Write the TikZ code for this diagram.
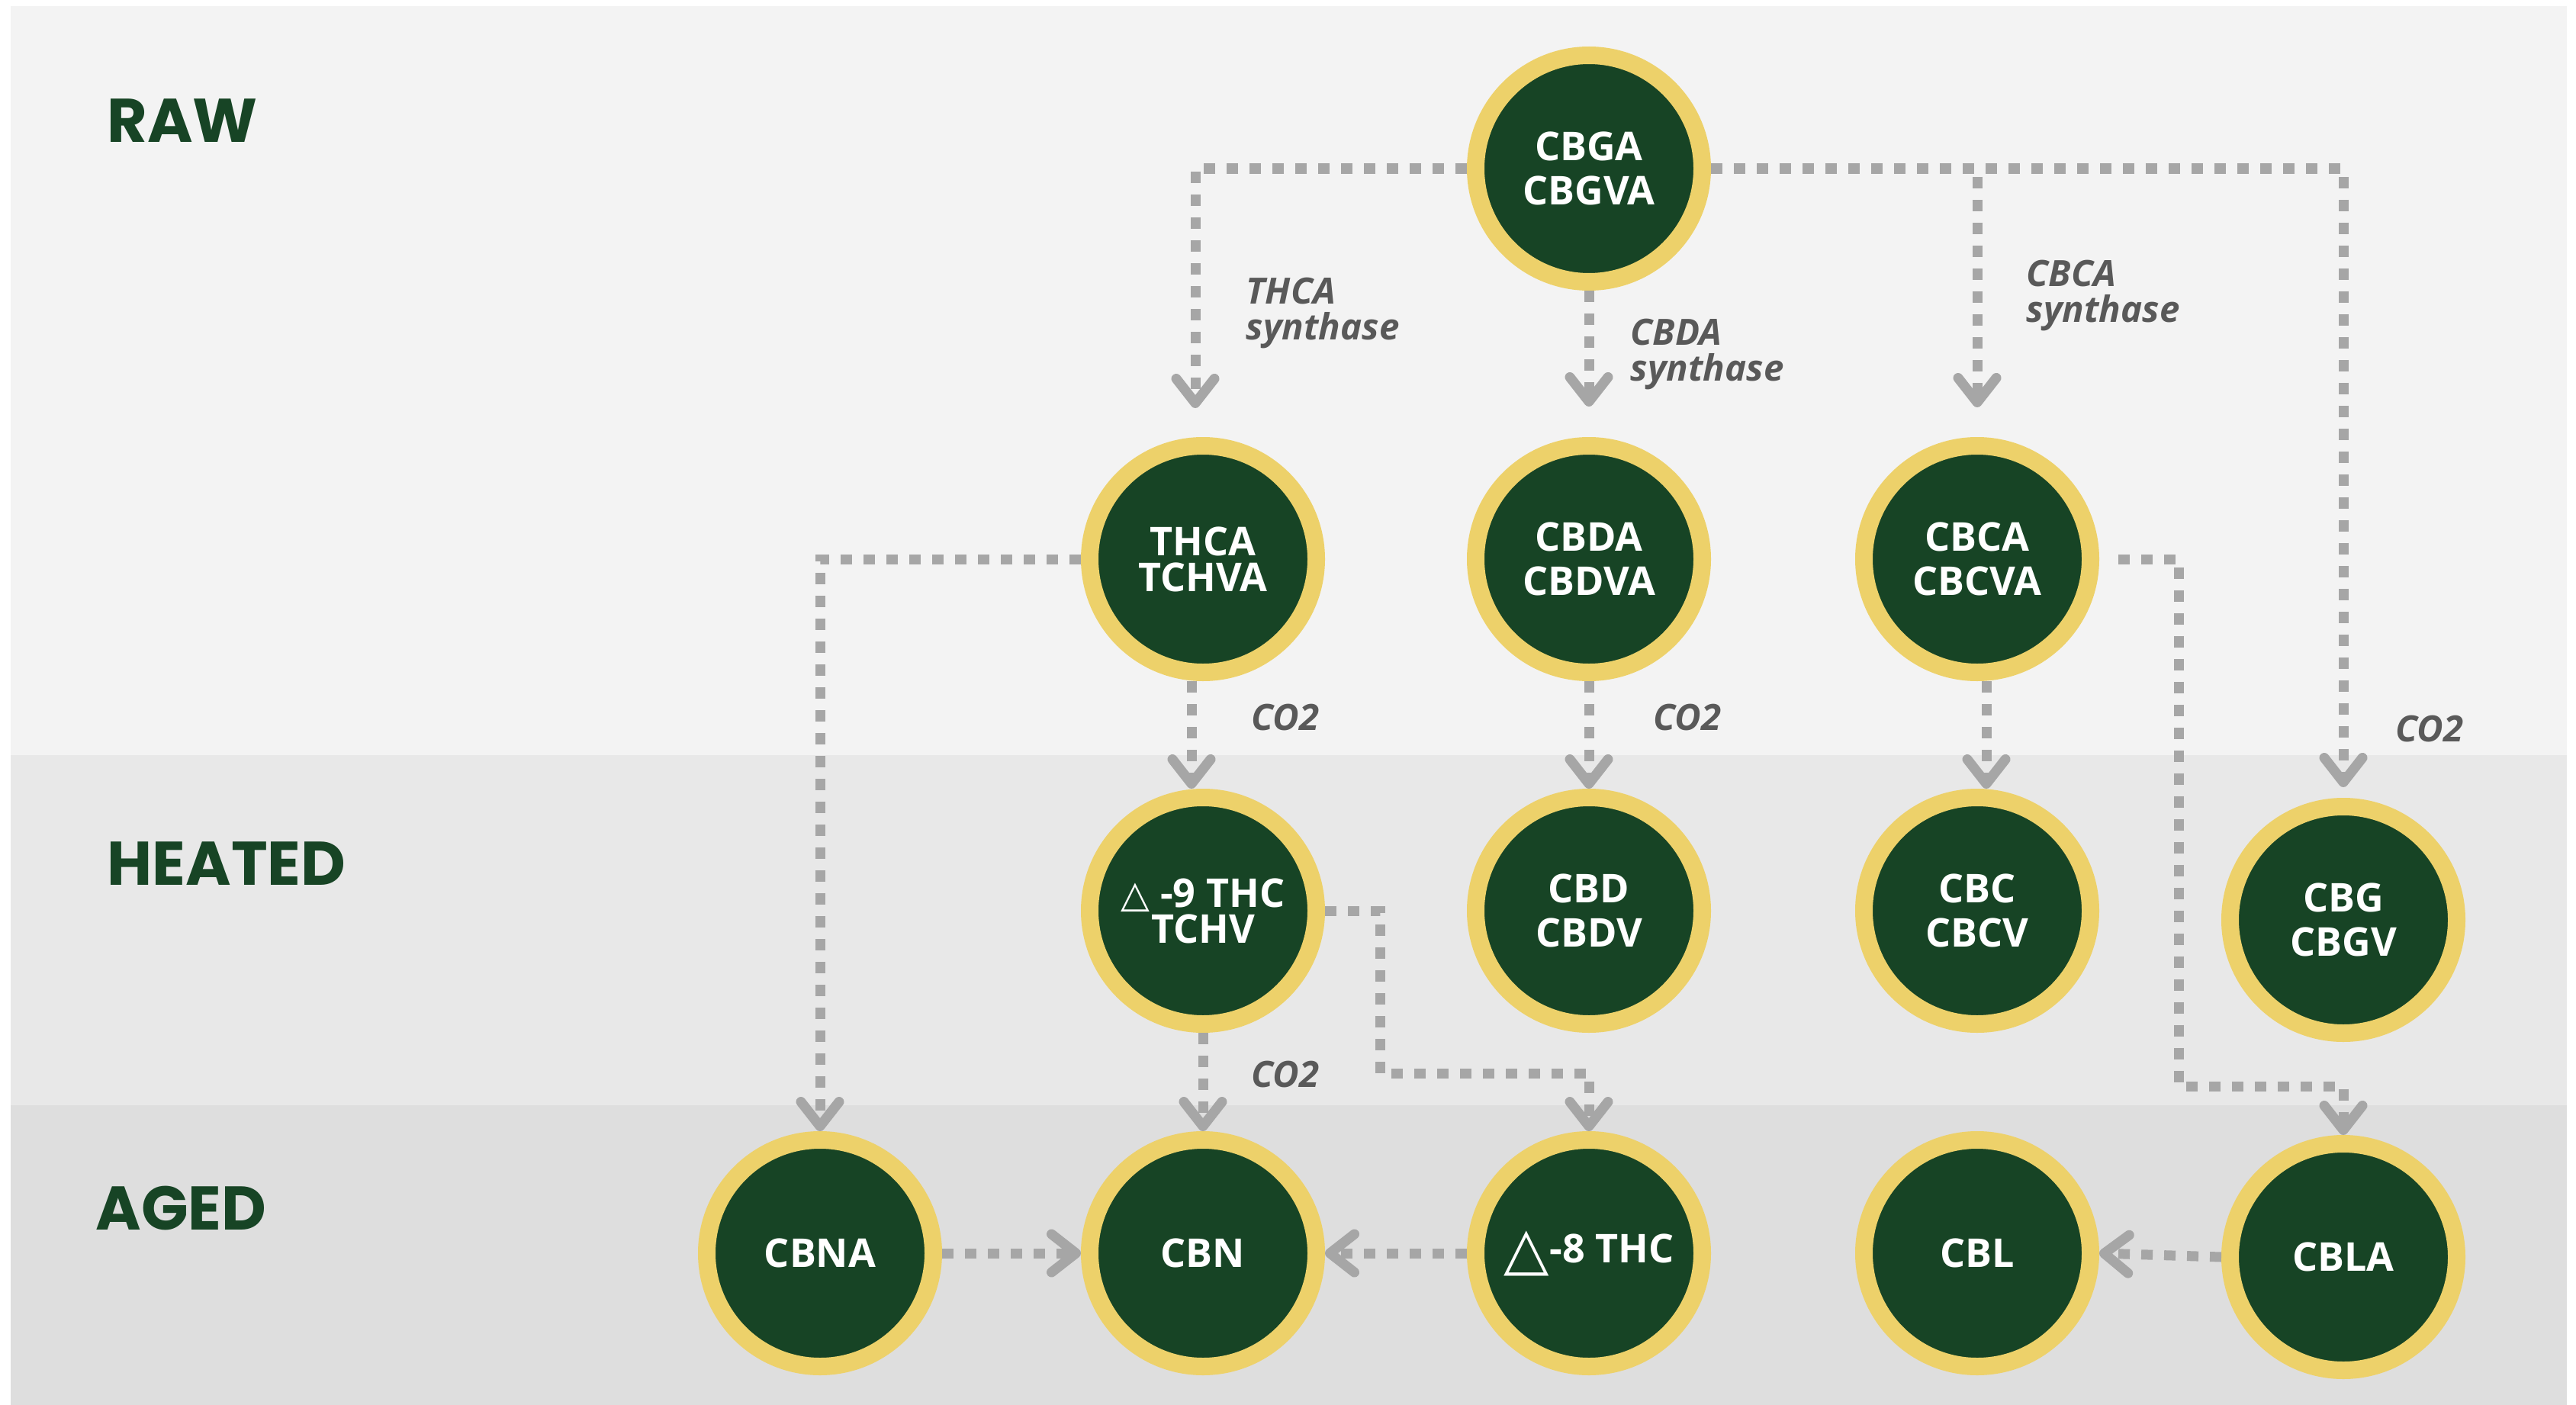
\documentclass[tikz,border=0pt]{standalone}
\usepackage{fontspec}
\setmainfont{Open Sans}
\newfontfamily\bandfont{Poppins}
\newfontfamily\symfont{DejaVu Sans}
\usetikzlibrary{arrows.meta,positioning,calc}

\definecolor{leaf}{HTML}{174425}
\definecolor{ring}{HTML}{EDD16A}
\definecolor{pipe}{HTML}{A6A6A6}
\definecolor{note}{HTML}{595959}
\definecolor{rawbg}{HTML}{F3F3F3}
\definecolor{heatbg}{HTML}{E8E8E8}
\definecolor{agedbg}{HTML}{DEDEDE}

\tikzset{
  compound/.style={circle,fill=leaf,draw=ring,line width=0.23cm,minimum size=2.97cm,
    inner sep=0pt,text=white,align=center,font=\bfseries\fontsize{14.8}{16.4}\selectfont},
  tight/.style={font=\bfseries\fontsize{14.8}{13.4}\selectfont},
  flow/.style={draw=pipe,line width=0.13cm,dash pattern=on 0.15cm off 0.15cm,
    -{Straight Barb[round,length=0.32cm,width=0.5cm]}},
  enzyme/.style={text=note,anchor=north west,inner sep=0pt,align=left,
    font=\bfseries\itshape\fontsize{13.5}{13.6}\selectfont},
  stage/.style={text=leaf,anchor=base west,inner sep=0pt,
    font=\bandfont\bfseries\fontsize{23}{27}\selectfont},
}

\begin{document}
\begin{tikzpicture}[on grid]

\useasboundingbox[fill=white] (0,0) rectangle (33.77,-18.42);

% stages
\fill[rawbg] (0.14,-0.08) rectangle (33.65,-9.90);
\fill[heatbg] (0.14,-9.90) rectangle (33.65,-14.49);
\fill[agedbg] (0.14,-14.49) rectangle (33.65,-18.42);

\node [stage] (raw) at (1.40,-1.87) {RAW};
\node [stage] (heated) at (1.40,-11.60) {HEATED};
\node [stage] (aged) at (1.25,-16.12) {AGED};

% compounds
\node [compound] (cbga) at (20.83,-2.21) {CBGA\\CBGVA};

\node [compound] (cbda) [below=5.12cm of cbga] {CBDA\\CBDVA};
\node [compound,tight] (thca) [left=5.06cm of cbda] {THCA\\TCHVA};
\node [compound] (cbca) [right=5.09cm of cbda] {CBCA\\CBCVA};

\node [compound,tight] (d9) [below=4.61cm of thca] {{\symfont\fontsize{14}{14}\selectfont △} -9 THC\\TCHV};
\node [compound] (cbd) [right=5.06cm of d9] {CBD\\CBDV};
\node [compound] (cbc) [right=5.09cm of cbd] {CBC\\CBCV};
\node [compound] (cbg) [below right=0.12cm and 4.80cm of cbc] {CBG\\CBGV};

\node [compound] (cbn) [below=4.49cm of d9] {CBN};
\node [compound] (cbna) [left=5.02cm of cbn] {CBNA};
\node [compound] (d8) [right=5.06cm of cbn] {\raisebox{-0.08cm}{\symfont\fontsize{22}{22}\selectfont △}-8 THC};
\node [compound] (cbl) [right=5.09cm of d8] {CBL};
\node [compound] (cbla) [below right=0.05cm and 4.80cm of cbl] {CBLA};

% labels
\node [enzyme] (thcas) at (16.33,-3.63) {THCA\\synthase};
\node [enzyme] (cbdas) at (21.37,-4.17) {CBDA\\synthase};
\node [enzyme] (cbcas) at (26.56,-3.40) {CBCA\\synthase};
\node [enzyme] (co2a) at (16.40,-9.22) {CO2};
\node [enzyme] (co2b) at (21.67,-9.22) {CO2};
\node [enzyme] (co2c) at (31.40,-9.37) {CO2};
\node [enzyme] (co2d) at (16.40,-13.90) {CO2};

% pathways
\draw [flow,shorten >=0.38cm] (cbga.west) -| ([xshift=-0.1cm]thca.north);
\draw [flow,shorten >=0.40cm] (cbga.south) -- (cbda.north);
\draw [flow,shorten >=0.39cm] (cbga.east) -| (cbca.north);
\draw [flow,shorten >=0.14cm] (cbga.east) -| (cbg.north);

\draw [flow] (thca.west) -| (cbna.north);
\draw [flow] ([xshift=-0.15cm]thca.south) -- ([xshift=-0.15cm]d9.north);
\draw [flow] (cbda.south) -- (cbd.north);
\draw [flow] ([xshift=0.12cm]cbca.south) -- ([xshift=0.12cm]cbc.north);
\draw [flow] ([xshift=0.25cm]cbca.east) -- ++(0.79,0) |- ([yshift=0.64cm]cbla.north) -- (cbla.north);

\draw [flow] (d9.east) -- ++(0.72,0) |- ([yshift=0.76cm]d8.north) -- (d8.north);
\draw [flow] (d9.south) -- (cbn.north);

\draw [flow] (cbna.east) -- (cbn.west);
\draw [flow] (d8.west) -- (cbn.east);
\draw [flow] (cbla.west) -- (cbl.east);

\end{tikzpicture}
\end{document}
